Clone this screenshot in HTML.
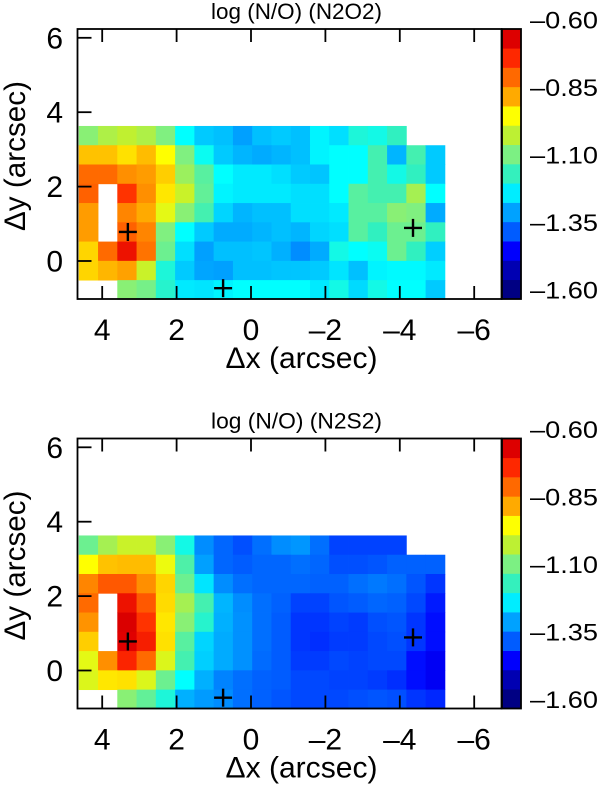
<!DOCTYPE html>
<html lang="en">
<head>
<meta charset="utf-8">
<title>log (N/O) maps</title>
<style>
html,body{margin:0;padding:0;background:#fff;width:600px;height:785px;overflow:hidden}
svg{display:block}
text{font-family:"Liberation Sans",sans-serif;fill:#000}
</style>
</head>
<body>
<svg id="chart" xmlns="http://www.w3.org/2000/svg" width="600" height="785" viewBox="0 0 600 785"></svg>
<script>
const xTicks = [4, 2, 0, -2, -4, -6];
const yTicks = [6, 4, 2, 0];
const colorbarTicks = [-0.60, -0.85, -1.10, -1.35, -1.60];
const colorLevels = 14;
const colorMin = -1.6;
const colorMax = -0.6;
const gridLeft = 4.63;
const gridTop = 3.63;
const cellSize = 0.518;
const markerX = [3.31, 0.75, -4.355];
const markerY = [0.78, -0.73, 0.89];
const titleN2O2 = "log (N/O) (N2O2)";
const titleN2S2 = "log (N/O) (N2S2)";

const valuesN2O2 = [
[-1.05,-1.01,-0.99,-1.01,-1.06,-1.19,-1.24,-1.25,-1.28,-1.25,-1.24,-1.25,-1.20,-1.22,-1.16,-1.17,-1.14],
[-0.87,-0.87,-0.895,-0.865,-0.92,-1.06,-1.18,-1.24,-1.26,-1.27,-1.26,-1.25,-1.20,-1.19,-1.19,-1.12,-1.26,-1.12,-1.24],
[-0.78,-0.78,-0.82,-0.835,-0.88,-1.03,-1.10,-1.19,-1.21,-1.21,-1.22,-1.24,-1.245,-1.19,-1.19,-1.12,-1.17,-1.14,-1.24],
[-0.77,null,-0.72,-0.82,-0.90,-0.98,-1.09,-1.20,-1.21,-1.21,-1.21,-1.22,-1.22,-1.19,-1.10,-1.12,-1.12,-1.02,-1.19],
[-0.835,null,-0.81,-0.85,-0.95,-1.05,-1.12,-1.23,-1.26,-1.25,-1.25,-1.22,-1.22,-1.21,-1.10,-1.10,-1.05,-1.06,-1.27],
[-0.835,null,-0.77,-0.81,-1.06,-1.19,-1.24,-1.27,-1.27,-1.26,-1.25,-1.26,-1.23,-1.22,-1.10,-1.14,-1.08,-1.08,-1.14],
[-0.885,-0.78,-0.67,-0.79,-1.08,-1.22,-1.28,-1.25,-1.25,-1.245,-1.265,-1.30,-1.27,-1.17,-1.19,-1.18,-1.08,-1.14,-1.235],
[-0.885,-0.86,-0.84,-0.98,-1.16,-1.24,-1.275,-1.28,-1.25,-1.25,-1.245,-1.245,-1.24,-1.215,-1.25,-1.20,-1.195,-1.195,-1.21],
[null,null,-1.05,-1.07,-1.15,-1.21,-1.215,-1.20,-1.19,-1.19,-1.19,-1.19,-1.21,-1.17,-1.225,-1.17,-1.19,-1.19,-1.24]
];

const valuesN2S2 = [
[-1.08,-1.02,-0.98,-0.98,-1.05,-1.17,-1.30,-1.34,-1.36,-1.33,-1.30,-1.29,-1.33,-1.37,-1.37,-1.37,-1.37],
[-0.92,-0.87,-0.865,-0.865,-0.94,-1.11,-1.28,-1.34,-1.35,-1.34,-1.34,-1.33,-1.34,-1.36,-1.36,-1.355,-1.345,-1.345,-1.345],
[-0.81,-0.76,-0.76,-0.82,-0.885,-1.08,-1.215,-1.30,-1.33,-1.34,-1.34,-1.34,-1.345,-1.345,-1.33,-1.32,-1.33,-1.355,-1.38],
[-0.78,null,-0.67,-0.76,-0.89,-1.02,-1.12,-1.26,-1.30,-1.33,-1.345,-1.37,-1.37,-1.355,-1.35,-1.34,-1.345,-1.365,-1.40],
[-0.825,null,-0.63,-0.72,-0.90,-1.05,-1.15,-1.265,-1.295,-1.33,-1.35,-1.38,-1.38,-1.37,-1.375,-1.36,-1.355,-1.38,-1.41],
[-0.88,null,-0.64,-0.69,-0.895,-1.10,-1.23,-1.27,-1.295,-1.33,-1.35,-1.38,-1.385,-1.375,-1.375,-1.365,-1.36,-1.38,-1.41],
[-0.95,-0.82,-0.70,-0.78,-0.96,-1.12,-1.235,-1.27,-1.295,-1.335,-1.35,-1.375,-1.375,-1.365,-1.37,-1.365,-1.365,-1.41,-1.43],
[-0.96,-0.90,-0.895,-0.96,-1.08,-1.19,-1.265,-1.31,-1.33,-1.345,-1.35,-1.365,-1.365,-1.37,-1.37,-1.375,-1.385,-1.41,-1.43],
[null,null,-1.05,-1.09,-1.16,-1.265,-1.285,-1.30,-1.33,-1.345,-1.355,-1.365,-1.365,-1.365,-1.36,-1.355,-1.36,-1.38,-1.39]
];

const svgNS = "http://www.w3.org/2000/svg";
const root = document.getElementById("chart");

// colormap: [value, r, g, b]
const cmap = [
  [-1.60,0,0,110],[-1.50,0,0,170],[-1.42,0,0,255],[-1.35,0,92,255],[-1.28,0,160,255],
  [-1.19,0,255,255],[-1.14,48,240,192],[-1.06,128,240,128],[-0.99,192,240,48],
  [-0.92,255,255,0],[-0.85,255,170,0],[-0.78,255,106,0],[-0.71,255,42,0],[-0.64,224,0,0],[-0.60,200,0,0]
];
function valueColor(v) {
  for (let i = 1; i < cmap.length; i++) {
    if (v <= cmap[i][0]) {
      const a = cmap[i - 1], b = cmap[i];
      const t = Math.max(0, (v - a[0]) / (b[0] - a[0]));
      return "rgb(" + [1, 2, 3].map(k => Math.round(a[k] + (b[k] - a[k]) * t)).join(",") + ")";
    }
  }
  return "rgb(200,0,0)";
}
function add(parent, tag, attrs, txt) {
  const el = document.createElementNS(svgNS, tag);
  for (const k in attrs) el.setAttribute(k, attrs[k]);
  if (txt !== undefined) el.textContent = txt;
  parent.appendChild(el);
  return el;
}
function fmtTick(v, digits) {
  const s = Math.abs(v).toFixed(digits);
  return v < 0 ? "\u2013" + s : s;
}

function drawPanel(panelName, title, values, top) {
  const bottom = top + 270;
  const y0 = top + 232;
  const scale = 37.2;
  const left = 77.5, right = 501.5;
  const sx = x => 251 - x * scale;
  const sy = y => y0 - y * scale;

  const g = add(root, "g", {});
  
  

  const heat = add(g, "g", {});
  
  
  values.forEach((row, r) => {
    row.forEach((v, c) => {
      if (v === null) return;
      const x1 = sx(gridLeft - c * cellSize), x2 = sx(gridLeft - (c + 1) * cellSize);
      const y1 = sy(gridTop - r * cellSize), y2 = sy(gridTop - (r + 1) * cellSize);
      const cell = add(heat, "rect", {x: x1, y: y1, width: x2 - x1 + 0.4, height: y2 - y1 + 0.4, fill: valueColor(v)});
      
      
    });
  });

  const frame = add(g, "rect", {x: left, y: top, width: right - left, height: bottom - top, fill: "none", stroke: "#000", "stroke-width": 1.8});
  
  

  xTicks.forEach(t => {
    const x = sx(t);
    const tb = add(g, "line", {x1: x, x2: x, y1: bottom, y2: bottom - 13, stroke: "#000", "stroke-width": 1.8});
    
    
    const tt = add(g, "line", {x1: x, x2: x, y1: top, y2: top + 13, stroke: "#000", "stroke-width": 1.8});
    
    
    const lab = add(g, "text", {x: x, y: bottom + 41, "font-size": 30, "text-anchor": "middle"}, fmtTick(t, 0));
    
    
  });
  yTicks.forEach(t => {
    const y = sy(t);
    const tk = add(g, "line", {x1: left, x2: left + 14, y1: y, y2: y, stroke: "#000", "stroke-width": 1.8});
    
    
    const lab = add(g, "text", {x: 63, y: y + 10.5, "font-size": 30, "text-anchor": "end"}, fmtTick(t, 0));
    
    
  });

  markerX.forEach((mx, i) => {
    const cx = sx(mx), cy = sy(markerY[i]);
    const h = add(g, "line", {x1: cx - 9, x2: cx + 9, y1: cy, y2: cy, stroke: "#000", "stroke-width": 2.4});
    
    
    const v = add(g, "line", {x1: cx, x2: cx, y1: cy - 9, y2: cy + 9, stroke: "#000", "stroke-width": 2.4});
    
    
  });

  const ttl = add(g, "text", {x: 296.5, y: top - 10, "font-size": 22, "text-anchor": "middle", textLength: 171, lengthAdjust: "spacingAndGlyphs"}, title);
  
  

  const xl = add(g, "text", {x: 301.5, y: top + 339, "font-size": 30, "text-anchor": "middle", textLength: 152, lengthAdjust: "spacingAndGlyphs"}, "\u0394x (arcsec)");
  
  

  const yl = add(g, "text", {x: 0, y: 0, "font-size": 30, "text-anchor": "middle", textLength: 150, lengthAdjust: "spacingAndGlyphs", transform: "translate(25," + (top + 127) + ") rotate(-90)"}, "\u0394y (arcsec)");
  
  

  // colorbar
  const cbLeft = 502, cbRight = 521;
  const cbY = v => bottom - (v - colorMin) / (colorMax - colorMin) * (bottom - top);
  const cb = add(g, "g", {});
  
  
  for (let i = 0; i < colorLevels; i++) {
    const lo = colorMin + (colorMax - colorMin) * i / colorLevels;
    const hi = colorMin + (colorMax - colorMin) * (i + 1) / colorLevels;
    const band = add(cb, "rect", {x: cbLeft, y: cbY(hi), width: cbRight - cbLeft, height: cbY(lo) - cbY(hi) + 0.3, fill: valueColor((lo + hi) / 2)});
    
    
  }
  const cbf = add(cb, "rect", {x: cbLeft, y: top, width: cbRight - cbLeft, height: bottom - top, fill: "none", stroke: "#000", "stroke-width": 1.8});
  
  
  colorbarTicks.forEach(v => {
    const lab = add(cb, "text", {x: 530, y: cbY(v) - 9 + 8.5, "font-size": 24, textLength: 68, lengthAdjust: "spacingAndGlyphs"}, fmtTick(v, 2));
    
    
  });
}

drawPanel("panel-n2o2", titleN2O2, valuesN2O2, 29);
drawPanel("panel-n2s2", titleN2S2, valuesN2S2, 438.5);
</script>
</body>
</html>
